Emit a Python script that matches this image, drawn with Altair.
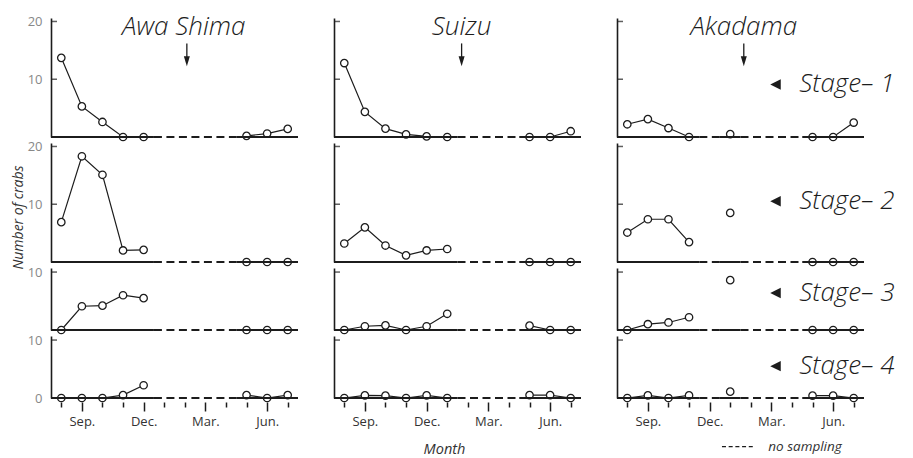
import altair as alt
import pandas as pd

INK = "#1c1c1c"
FONT = "Open Sans"

sites = ["Awa Shima", "Suizu", "Akadama"]
stage_names = ["Stage\u2013 1", "Stage\u2013 2", "Stage\u2013 3", "Stage\u2013 4"]

# month index: Aug=1 ... Jul=12
month_ticks = [1, 2, 3, 4, 5, 6, 7, 8, 9, 10, 11, 12]
month_names = ["", "Sep.", "", "", "Dec.", "", "", "Mar.", "", "", "Jun.", ""]
major_months = [2, 5, 8, 11]

awa_months = [1, 2, 3, 4, 5, 10, 11, 12]
awa_groups = ["a", "a", "a", "a", "a", "b", "b", "b"]
awa_s1 = [13.7, 5.3, 2.6, 0, 0, 0.2, 0.6, 1.4]
awa_s2 = [6.9, 18.3, 15.1, 2.0, 2.1, 0, 0, 0]
awa_s3 = [0, 4.1, 4.2, 6.0, 5.5, 0, 0, 0]
awa_s4 = [0, 0, 0, 0.5, 2.2, 0.5, 0, 0.5]

suizu_months = [1, 2, 3, 4, 5, 6, 10, 11, 12]
suizu_groups = ["a", "a", "a", "a", "a", "a", "b", "b", "b"]
suizu_s1 = [12.8, 4.35, 1.45, 0.45, 0.1, 0, 0, 0, 1.0]
suizu_s2 = [3.2, 6.0, 2.85, 1.15, 2.0, 2.25, 0, 0, 0]
suizu_s3 = [0, 0.65, 0.8, 0, 0.65, 2.8, 0.75, 0, 0]
suizu_s4 = [0, 0.45, 0.4, 0, 0.45, 0, 0.5, 0.5, 0]

aka_months = [1, 2, 3, 4, 6, 10, 11, 12]
aka_groups = ["a", "a", "a", "a", "c", "b", "b", "b"]
aka_s1 = [2.2, 3.1, 1.55, 0, 0.5, 0, 0, 2.5]
aka_s2 = [5.1, 7.4, 7.4, 3.45, 8.5, 0, 0, 0]
aka_s3 = [0, 1.0, 1.3, 2.2, 8.6, 0, 0, 0]
aka_s4 = [0, 0.45, 0, 0.45, 1.1, 0.4, 0.4, 0]

site_months = [awa_months, suizu_months, aka_months]
site_groups = [awa_groups, suizu_groups, aka_groups]
site_values = [
    [awa_s1, awa_s2, awa_s3, awa_s4],
    [suizu_s1, suizu_s2, suizu_s3, suizu_s4],
    [aka_s1, aka_s2, aka_s3, aka_s4],
]

# annotation positions (data space)
title_x = [6.95, 6.7, 6.66]
title_y = 19.1
arrow_x = [7.1, 6.7, 6.66]
arrow_top = 16.2
arrow_tip = 13.1
stage_label_y = [9.1, 10.5, 6.4, 5.5]
stage_tri_x = 8.2
stage_text_x = 9.35
legend_x = [5.6, 7.15]
legend_text_x = 7.85
legend_y = -8.4

x_domain = [0.5, 12.5]
row_top = [20.6, 20.6, 10.7, 10.7]
row_height = [119, 119, 62, 62]
row_ticks = [[10, 20], [10, 20], [10], [10]]
row_labels = [[10, 20], [10, 20], [10], [0, 10]]
panel_width = 247

label_expr = "[" + ",".join("'%s'" % n for n in month_names) + "][datum.value-1]"
tick_test = "indexof([" + ",".join(str(m) for m in major_months) + "], datum.value) >= 0"


def sampling_runs(months):
    sampled = set(months)
    out = []
    cur = None
    for m in month_ticks:
        s = m in sampled
        if cur is not None and cur["solid"] == s:
            cur["end"] = m + 0.5
        else:
            cur = {"start": m - 0.5, "end": m + 0.5, "solid": s}
            out.append(cur)
    df = pd.DataFrame(out)
    df["zero"] = 0
    return df


def panel(si, ri):
    bottom = ri == 3
    left = si == 0
    if bottom:
        xaxis = alt.Axis(
            values=month_ticks, labelExpr=label_expr, domain=False, grid=False,
            offset=4, tickColor=INK, tickWidth=1.5,
            tickSize={"condition": {"test": tick_test, "value": 9}, "value": 5},
            labelFont=FONT, labelFontSize=13, labelColor="#333", labelPadding=4,
            title="Month" if si == 1 else None,
            titleFont=FONT, titleFontSize=14.5, titleFontStyle="italic",
            titleFontWeight="normal", titleColor="#333", titlePadding=14,
            titleX=110,
        )
    else:
        xaxis = None
    if left:
        yaxis = alt.Axis(
            values=row_labels[ri], ticks=False, grid=False, domain=True,
            domainColor=INK, domainWidth=1.6, labelFont=FONT, labelFontSize=13,
            labelColor="#888", labelPadding=9,
            title="Number of crabs" if ri == 1 else None,
            titleFont=FONT, titleFontSize=14, titleFontStyle="italic",
            titleFontWeight="normal", titleColor="#333", titlePadding=2, titleY=74,
        )
    else:
        yaxis = alt.Axis(labels=False, ticks=False, grid=False, domain=True,
                         domainColor=INK, domainWidth=1.6, title=None)

    xs = alt.Scale(domain=x_domain, nice=False, zero=False)
    ys = alt.Scale(domain=[0, row_top[ri]], nice=False)

    def X(f):
        return alt.X(f, type="quantitative", scale=xs, axis=xaxis)

    def Y(f):
        return alt.Y(f, type="quantitative", scale=ys, axis=yaxis)

    df = pd.DataFrame({
        "month": site_months[si],
        "count": site_values[si][ri],
        "grp": site_groups[si],
    })
    base = alt.Chart(df)
    line = base.mark_line(color=INK, strokeWidth=1.2).encode(
        x=X("month"), y=Y("count"), detail="grp:N")
    pts = base.mark_point(shape="circle", size=55, fill="white", stroke=INK,
                          strokeWidth=1.3, opacity=1, fillOpacity=1).encode(
        x=X("month"), y=Y("count"))

    runs = sampling_runs(site_months[si])
    solid = alt.Chart(runs[runs["solid"]]).mark_rule(color=INK, strokeWidth=2).encode(
        x=X("start"), x2="end", y=Y("zero"))
    dashed = alt.Chart(runs[~runs["solid"]]).mark_rule(
        color=INK, strokeWidth=2, strokeDash=[8, 4.5]).encode(
        x=X("start"), x2="end", y=Y("zero"))

    tick_df = pd.DataFrame({"pos": [x_domain[0]] * len(row_ticks[ri]), "val": row_ticks[ri]})
    yticks = alt.Chart(tick_df).mark_tick(orient="horizontal", size=6, thickness=1.5,
                                          color=INK, xOffset=3).encode(
        x=X("pos"), y=Y("val"))

    layers = [line, pts, solid, dashed, yticks]

    if ri == 0:
        tdf = pd.DataFrame({"pos": [title_x[si]], "y": [title_y], "label": [sites[si]]})
        layers.append(alt.Chart(tdf).mark_text(
            font=FONT, fontSize=26, fontStyle="italic", fontWeight=300, color=INK,
            align="center", baseline="middle").encode(x=X("pos"), y=Y("y"), text="label:N"))
        adf = pd.DataFrame({"pos": [arrow_x[si]], "y1": [arrow_top], "y2": [arrow_tip]})
        layers.append(alt.Chart(adf).mark_rule(color=INK, strokeWidth=1.3).encode(
            x=X("pos"), y=Y("y1"), y2="y2"))
        layers.append(alt.Chart(adf).mark_point(
            shape="M-0.6,-1L0,1L0.6,-1Z", size=100, filled=True, color=INK, opacity=1).encode(
            x=X("pos"), y=Y("y2")))

    if si == 2:
        sdf = pd.DataFrame({"tri": [stage_tri_x], "tx": [stage_text_x],
                            "y": [stage_label_y[ri]], "label": [stage_names[ri]]})
        layers.append(alt.Chart(sdf).mark_point(
            shape="M1,-1L-1,0L1,1Z", size=110, filled=True, color=INK, opacity=1).encode(
            x=X("tri"), y=Y("y")))
        layers.append(alt.Chart(sdf).mark_text(
            font=FONT, fontSize=26, fontStyle="italic", fontWeight=300, color=INK,
            align="left", baseline="middle").encode(x=X("tx"), y=Y("y"), text="label:N"))

    if si == 2 and ri == 3:
        ldf = pd.DataFrame({"x1": [legend_x[0]], "x2": [legend_x[1]], "tx": [legend_text_x],
                            "y": [legend_y], "label": ["no sampling"]})
        layers.append(alt.Chart(ldf).mark_rule(color=INK, strokeWidth=1.3,
                                                strokeDash=[4, 2.7]).encode(
            x=X("x1"), x2="x2", y=Y("y")))
        layers.append(alt.Chart(ldf).mark_text(
            font=FONT, fontSize=13.5, fontStyle="italic", color="#333",
            align="left", baseline="middle").encode(x=X("tx"), y=Y("y"), text="label:N"))

    return alt.layer(*layers).properties(width=panel_width, height=row_height[ri])


panels = [panel(si, ri) for ri in range(4) for si in range(3)]

chart = alt.concat(*panels, columns=3).properties(
    spacing={"row": 6, "column": 36},
    bounds="flush",
    align="each",
    padding={"left": 3, "top": 5, "right": 2, "bottom": 0},
    background="white",
).configure(font=FONT).configure_view(stroke=None)

chart.save("out.html", embed_options={"renderer": "svg", "actions": False})
